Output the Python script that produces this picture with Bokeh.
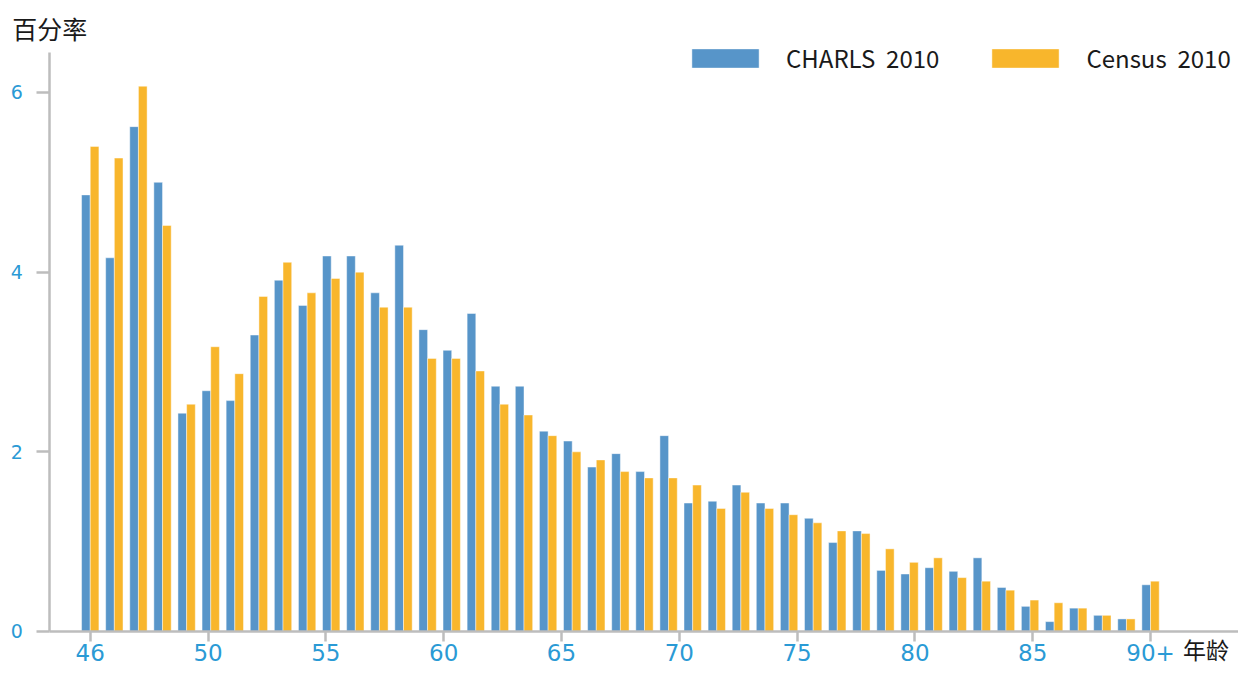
from bokeh.plotting import figure
from bokeh.models import ColumnDataSource, FixedTicker, Label, Legend, LegendItem
from bokeh.transform import dodge
from bokeh.embed import file_html
from bokeh.resources import INLINE

# ---------------- data ----------------
ages = [str(a) for a in range(46, 90)] + ["90+"]
charls = [4.86, 4.16, 5.62, 5.00, 2.43, 2.68, 2.57, 3.30, 3.91, 3.63,
          4.18, 4.18, 3.77, 4.30, 3.36, 3.13, 3.54, 2.73, 2.73, 2.23,
          2.12, 1.83, 1.98, 1.78, 2.18, 1.43, 1.45, 1.63, 1.43, 1.43,
          1.26, 0.99, 1.12, 0.68, 0.64, 0.71, 0.67, 0.82, 0.49, 0.28,
          0.11, 0.26, 0.18, 0.14, 0.52]
census = [5.40, 5.27, 6.07, 4.52, 2.53, 3.17, 2.87, 3.73, 4.11, 3.77,
          3.93, 4.00, 3.61, 3.61, 3.04, 3.04, 2.90, 2.53, 2.41, 2.18,
          2.00, 1.91, 1.78, 1.71, 1.71, 1.63, 1.37, 1.55, 1.37, 1.30,
          1.21, 1.12, 1.09, 0.92, 0.77, 0.82, 0.60, 0.56, 0.46, 0.35,
          0.32, 0.26, 0.18, 0.14, 0.56]
series_names = ["CHARLS  2010", "Census  2010"]
tick_labels = ["46", "50", "55", "60", "65", "70", "75", "80", "85", "90+"]
y_ticks = [0, 2, 4, 6]
y_title = "百分率"
x_title = "年龄"

# ---------------- styling ----------------
BLUE = "#5795c9"
ORANGE = "#f8b62c"
AXIS = "#bdbdbd"
TICKTXT = "#2a9ad5"
TXT = "#1a1a1a"
CJK = "Noto Sans CJK SC"
TICKFONT = "DejaVu Sans"
STEP = 9  # x units per category

n = len(ages)
xpos = [i * STEP for i in range(n)]
tick_pos = [k * ((n - 1) * STEP // (len(tick_labels) - 1)) for k in range(len(tick_labels))]

src = ColumnDataSource(dict(x=xpos, age=ages, charls=charls, census=census))

X0, X1 = -3.724 * STEP, 47.65 * STEP      # whole canvas width
Y0, Y1 = -0.3785, 7.024                   # whole canvas height
AX_LEFT = -1.676 * STEP                   # where the y axis stands
AX_TOP = 6.446                            # top end of the y axis line

p = figure(width=1238, height=665,
           x_range=(X0, X1), y_range=(Y0, Y1),
           output_backend="svg", toolbar_location=None,
           min_border_left=0, min_border_right=0,
           min_border_top=0, min_border_bottom=0)
p.outline_line_color = None
p.xgrid.visible = False
p.ygrid.visible = False
p.background_fill_color = "white"
p.border_fill_color = "white"

bw = 0.36 * STEP
rb = p.vbar(x=dodge("x", -bw / 2, range=p.x_range), top="charls", width=bw, source=src,
            fill_color=BLUE, line_color="white", line_alpha=0.45, line_width=1)
ro = p.vbar(x=dodge("x", bw / 2, range=p.x_range), top="census", width=bw, source=src,
            fill_color=ORANGE, line_color="white", line_alpha=0.45, line_width=1)

legend = Legend(items=[LegendItem(label=series_names[0], renderers=[rb]),
                       LegendItem(label=series_names[1], renderers=[ro])],
                location=(683, 590), orientation="horizontal",
                glyph_width=84, glyph_height=24, label_standoff=19, spacing=44,
                padding=0, margin=0, border_line_color=None,
                background_fill_alpha=0,
                label_text_font=CJK, label_text_font_size="24px",
                label_text_color=TXT)
p.add_layout(legend)

for ax in (p.xaxis[0], p.yaxis[0]):
    ax.axis_line_color = AXIS
    ax.axis_line_width = 2.5
    ax.major_tick_line_color = AXIS
    ax.major_tick_line_width = 2.5
    ax.major_tick_in = 0
    ax.minor_tick_line_color = None
    ax.major_label_text_color = TICKTXT
    ax.major_label_text_font = TICKFONT

p.xaxis.fixed_location = 0
p.xaxis.bounds = (AX_LEFT, X1)
p.xaxis.ticker = FixedTicker(ticks=tick_pos)
p.xaxis.major_label_overrides = {t: l for t, l in zip(tick_pos, tick_labels)}
p.xaxis.major_tick_out = 10
p.xaxis.major_label_standoff = 3
p.xaxis.major_label_text_font_size = "23px"

p.yaxis.fixed_location = AX_LEFT
p.yaxis.bounds = (0, AX_TOP)
p.yaxis.ticker = FixedTicker(ticks=y_ticks)
p.yaxis.major_tick_out = 13
p.yaxis.major_label_standoff = 14
p.yaxis.major_label_text_font_size = "19px"

p.add_layout(Label(x=-29.09, y=6.713, text=y_title, text_font=CJK,
                   text_font_size="25px", text_baseline="middle", text_color=TXT))
p.add_layout(Label(x=45.35 * STEP, y=-0.19, text=x_title, text_font=CJK,
                   text_font_size="23px", text_baseline="middle", text_color=TXT))

open("out.html", "w").write(file_html(p, INLINE))
